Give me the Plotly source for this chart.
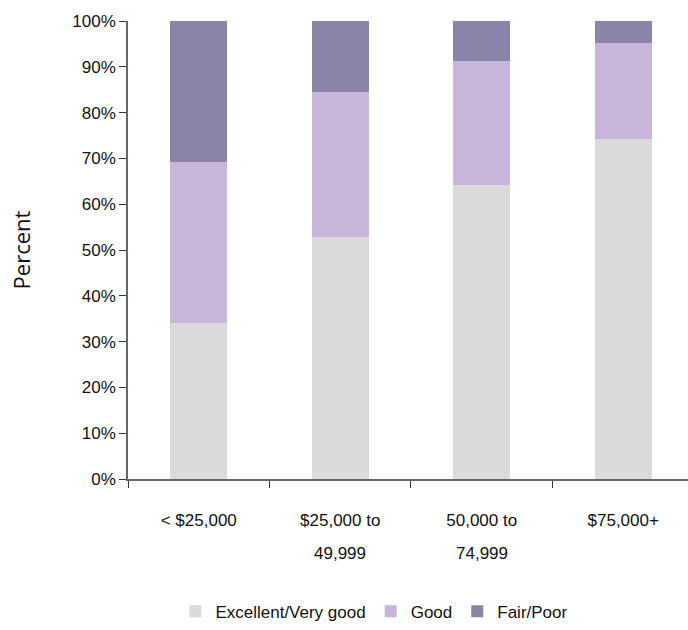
import plotly.graph_objects as go

categories = ["< $25,000", "$25,000 to", "50,000 to", "$75,000+"]
second_lines = ["", "49,999", "74,999", ""]
series_names = ["Excellent/Very good", "Good", "Fair/Poor"]
excellent = [34.0, 52.8, 64.1, 74.3]
good = [35.3, 31.8, 27.2, 20.9]
fair = [30.7, 15.4, 8.7, 4.8]
y_ticks = [0, 10, 20, 30, 40, 50, 60, 70, 80, 90, 100]
y_ticklabels = [f"{v}%" for v in y_ticks]

colors = ["#DADADA", "#C8B6DA", "#8A84A8"]
FONT = "Liberation Sans Narrow, Arial Narrow, Liberation Sans, Arial, sans-serif"

fig = go.Figure()
for name, vals, col in zip(series_names, [excellent, good, fair], colors):
    fig.add_trace(go.Bar(x=categories, y=vals, name=name, marker=dict(color=col, line=dict(width=0)),
                         width=0.40))

for cat, line2 in zip(categories, second_lines):
    if line2:
        fig.add_annotation(x=cat, y=0, xref="x", yref="y", text=line2, showarrow=False,
                           yshift=-74, font=dict(size=17, color="#111", family=FONT))

fig.update_layout(
    barmode="stack",
    width=688, height=630,
    margin=dict(l=128, r=0, t=21, b=149),
    paper_bgcolor="white", plot_bgcolor="white",
    font=dict(family=FONT, size=17, color="#111"),
    showlegend=True,
    legend=dict(orientation="h", x=0.44, xanchor="center", y=-0.29, yanchor="middle",
                font=dict(size=17), traceorder="normal", itemwidth=30),
    xaxis=dict(type="category", range=[-0.5, 3.458], showline=True, linecolor="#666", linewidth=1.5,
               ticks="outside", ticklen=7, tickcolor="#333", tickson="boundaries",
               showgrid=False, ticklabelstandoff=25, tickfont=dict(size=17)),
    yaxis=dict(range=[0, 100], tickvals=y_ticks, ticktext=y_ticklabels, showline=True,
               linecolor="#666", linewidth=1.5, ticks="outside", ticklen=7, tickcolor="#333",
               showgrid=False, zeroline=False, tickfont=dict(size=17),
               title=dict(text="Percent", font=dict(size=22, family="Open Sans, DejaVu Sans, sans-serif"), standoff=36)),
)
fig.write_html("out.html")
